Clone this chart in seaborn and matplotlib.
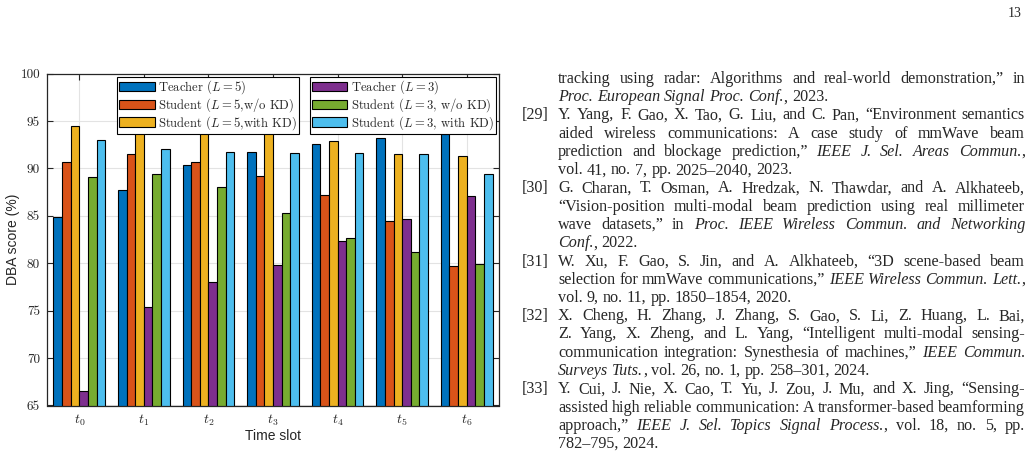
import numpy as np
import pandas as pd
import matplotlib
matplotlib.use("Agg")
import matplotlib.pyplot as plt
import seaborn as sns
from matplotlib.patches import Patch

# ---- chart data ----
slots = ["t0", "t1", "t2", "t3", "t4", "t5", "t6"]
slot_labels = [r"$t_0$", r"$t_1$", r"$t_2$", r"$t_3$", r"$t_4$", r"$t_5$", r"$t_6$"]
methods = ["Teacher ($L = 5$)", "Student ($L = 5$,w/o KD)", "Student ($L = 5$,with KD)",
           "Teacher ($L = 3$)", "Student ($L = 3$, w/o KD)", "Student ($L = 3$, with KD)"]
teacher_l5 = [84.9, 87.7, 90.4, 91.7, 92.6, 93.2, 93.6]
student_l5_nokd = [90.7, 91.5, 90.7, 89.2, 87.2, 84.5, 79.7]
student_l5_kd = [94.5, 94.5, 94.3, 93.9, 92.9, 91.5, 91.3]
teacher_l3 = [66.5, 75.4, 78.0, 79.8, 82.3, 84.7, 87.1]
student_l3_nokd = [89.1, 89.4, 88.1, 85.3, 82.7, 81.2, 79.9]
student_l3_kd = [93.0, 92.1, 91.7, 91.6, 91.6, 91.5, 89.4]
colors = ["#0072BD", "#D95319", "#EDB120", "#7E2F8E", "#77AC30", "#4DBEEE"]
yticks = [65, 70, 75, 80, 85, 90, 95, 100]

# ---- text column on the right of the page ----
page_number = "13"
ref_lines = [
    ("", "tracking using radar: Algorithms and real-world demonstration,\u201d in", True),
    ("", "*Proc. European Signal Proc. Conf.*, 2023.", False),
    ("[29]", "Y. Yang, F. Gao, X. Tao, G. Liu, and C. Pan, \u201cEnvironment semantics", True),
    ("", "aided wireless communications: A case study of mmWave beam", True),
    ("", "prediction and blockage prediction,\u201d *IEEE J. Sel. Areas Commun.*,", True),
    ("", "vol. 41, no. 7, pp. 2025\u20132040, 2023.", False),
    ("[30]", "G. Charan, T. Osman, A. Hredzak, N. Thawdar, and A. Alkhateeb,", True),
    ("", "\u201cVision-position multi-modal beam prediction using real millimeter", True),
    ("", "wave datasets,\u201d in *Proc. IEEE Wireless Commun. and Networking*", True),
    ("", "*Conf.*, 2022.", False),
    ("[31]", "W. Xu, F. Gao, S. Jin, and A. Alkhateeb, \u201c3D scene-based beam", True),
    ("", "selection for mmWave communications,\u201d *IEEE Wireless Commun. Lett.*,", True),
    ("", "vol. 9, no. 11, pp. 1850\u20131854, 2020.", False),
    ("[32]", "X. Cheng, H. Zhang, J. Zhang, S. Gao, S. Li, Z. Huang, L. Bai,", True),
    ("", "Z. Yang, X. Zheng, and L. Yang, \u201cIntelligent multi-modal sensing-", True),
    ("", "communication integration: Synesthesia of machines,\u201d *IEEE Commun.*", True),
    ("", "*Surveys Tuts.*, vol. 26, no. 1, pp. 258\u2013301, 2024.", False),
    ("[33]", "Y. Cui, J. Nie, X. Cao, T. Yu, J. Zou, J. Mu, and X. Jing, \u201cSensing-", True),
    ("", "assisted high reliable communication: A transformer-based beamforming", True),
    ("", "approach,\u201d *IEEE J. Sel. Topics Signal Process.*, vol. 18, no. 5, pp.", True),
    ("", "782\u2013795, 2024.", False),
]

W, H = 1030, 451
BODY = 11.6
sns.set_style("ticks")
plt.rcParams["mathtext.fontset"] = "cm"
plt.rcParams["axes.formatter.use_mathtext"] = True


def parse_words(line):
    """split a line into words, each a list of (text, italic) pieces"""
    words, cur, piece, italic = [], [], "", False
    for ch in line:
        if ch == "*":
            if piece:
                cur.append((piece, italic))
            piece, italic = "", not italic
        elif ch == " ":
            if piece:
                cur.append((piece, italic))
            if cur:
                words.append(cur)
            cur, piece = [], ""
        else:
            piece += ch
    if piece:
        cur.append((piece, italic))
    if cur:
        words.append(cur)
    return words


def draw_text_line(fig, renderer, text, y_px, x0, x1, justify, size=BODY):
    words = parse_words(text)
    placed = []
    for w in words:
        arts, width = [], 0.0
        for txt, it in w:
            t = fig.text(0, 0, txt, fontsize=size, family="Liberation Serif",
                         style="italic" if it else "normal", va="baseline", ha="left")
            wd = t.get_window_extent(renderer).width
            arts.append((t, width))
            width += wd
        placed.append((arts, width))
    total = sum(p[1] for p in placed)
    space = size * 100 / 72 * 0.25
    if justify and len(placed) > 1:
        space = max((x1 - x0 - total) / (len(placed) - 1), 1.5)
    x = x0
    for arts, width in placed:
        for t, off in arts:
            t.set_position(((x + off) / W, 1 - y_px / H))
        x += width + space


def evaluate():
    df = pd.DataFrame({
        "slot": np.tile(slots, 6),
        "method": np.repeat(methods, 7),
        "score": teacher_l5 + student_l5_nokd + student_l5_kd
                 + teacher_l3 + student_l3_nokd + student_l3_kd,
    })

    fig = plt.figure(figsize=(W / 100, H / 100), dpi=100)
    ax = fig.add_axes([47 / W, 1 - 405.5 / H, 452 / W, 331.8 / H])
    sns.barplot(data=df, x="slot", y="score", hue="method", hue_order=methods,
                palette=colors, saturation=1, width=0.8, errorbar=None,
                edgecolor="black", linewidth=0.8, legend=False, ax=ax)

    ax.set_xlim(-0.5, 6.5)
    ax.set_ylim(65, 100)
    ax.set_xticks(range(len(slots)))
    ax.set_xticklabels(slot_labels, fontsize=10)
    ax.set_yticks(yticks)
    ax.set_yticklabels([str(v) for v in yticks], family="cmr10", fontsize=9.5)
    ax.tick_params(direction="in", top=True, right=True, length=4, width=0.8,
                   color="#262626", labelcolor="#262626", pad=5)
    for s in ax.spines.values():
        s.set_color("#262626")
        s.set_linewidth(0.9)
    ax.grid(True, color="#e3e3e3", linewidth=0.8)
    ax.set_axisbelow(True)

    ax.set_xlabel("Time slot", family="Liberation Sans", fontsize=10,
                  color="#262626", va="center")
    ax.xaxis.set_label_coords(0.5, -0.092)
    ax.set_ylabel("DBA score (%)", family="Liberation Sans", fontsize=10,
                  color="#262626", va="center")
    ax.yaxis.set_label_coords(-0.0763, 0.5)

    handles = [Patch(facecolor=c, edgecolor="black", linewidth=0.8) for c in colors]
    leg_kw = dict(loc="upper left", borderaxespad=0, prop={"family": "cmr10", "size": 9.1},
                  handlelength=2.8, handleheight=0.8, labelspacing=0.0,
                  handletextpad=0.25, borderpad=0.15, fancybox=False, framealpha=1,
                  edgecolor="black")
    leg1 = ax.legend(handles[:3], methods[:3], bbox_to_anchor=(0.1555, 0.991), **leg_kw)
    leg1.get_frame().set_linewidth(0.8)
    ax.add_artist(leg1)
    leg2 = ax.legend(handles[3:], methods[3:], bbox_to_anchor=(0.582, 0.991), **leg_kw)
    leg2.get_frame().set_linewidth(0.8)

    # right-hand text column
    renderer = fig.canvas.get_renderer()
    fig.text(1022 / W, 1 - 17 / H, page_number, family="Liberation Serif",
             fontsize=10, ha="right", va="baseline")
    for i, (tag, line, just) in enumerate(ref_lines):
        y = 83 + 18.25 * i
        if tag:
            fig.text(521.5 / W, 1 - y / H, tag, family="Liberation Serif",
                     fontsize=BODY, va="baseline", ha="left")
        draw_text_line(fig, renderer, line, y, 558, 1025, just)

    fig.savefig("out.png", dpi=100)


if __name__ == '__main__':
    evaluate()
